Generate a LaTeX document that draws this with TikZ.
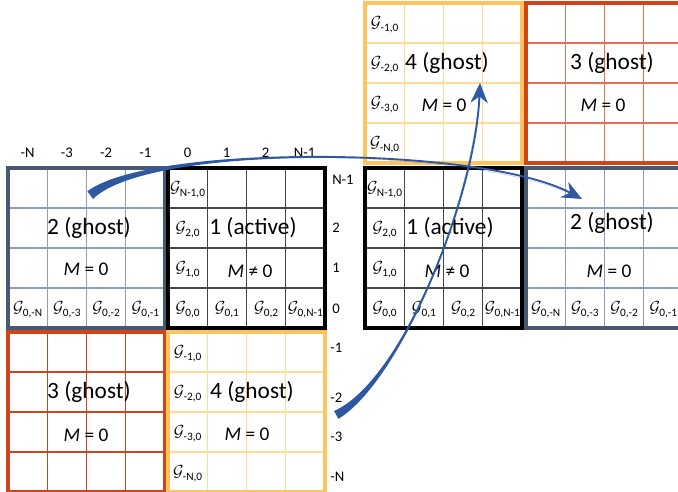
\documentclass[tikz,border=0pt]{standalone}
\usepackage{fontspec}
\setmainfont{Carlito}
\usetikzlibrary{arrows.meta}
\definecolor{slate}{RGB}{72,88,112}
\definecolor{slatel}{RGB}{140,158,184}
\definecolor{redb}{RGB}{208,68,26}
\definecolor{redl}{RGB}{226,112,82}
\definecolor{orab}{RGB}{255,196,92}
\definecolor{oral}{RGB}{255,220,145}
\definecolor{blkl}{RGB}{70,70,70}
\definecolor{arrowblue}{RGB}{47,88,163}
\tikzset{
  bigtext/.style={font=\fontsize{17.5}{19}\selectfont, inner sep=0pt},
  emtext/.style={font=\fontsize{14.5}{16}\selectfont, inner sep=0pt},
  axislab/.style={font=\fontsize{11}{12}\selectfont, inner sep=0pt},
  glab/.style={font=\fontsize{13}{14}\selectfont, inner sep=0pt},
  blockbox/.style={line width=2.3pt, minimum width=117.75pt, minimum height=120pt,
    inner sep=0pt, outer sep=0pt, anchor=north west},
  innerline/.style={line width=0.9pt},
  bluearrow/.style={draw=arrowblue, line width=1.4pt, -{Stealth[length=15pt,width=13pt]}},
}
\newcommand{\gsym}[1]{$\mathcal{G}$\kern-0.5pt\raisebox{-0.45ex}{\fontsize{8.5}{9}\selectfont #1}}
\newcommand{\gridlines}[3]{%
  \foreach \k in {1,2,3}{%
    \draw[innerline,#3] ({#1+\k*39.25},#2) -- ({#1+\k*39.25},{#2+160});
    \draw[innerline,#3] (#1,{#2+\k*40}) -- ({#1+157},{#2+\k*40});
  }}
\newcommand{\collabels}[4]{%
  \foreach \lab [count=\j from 0] in {#4}{%
    \node[glab] (#1c\j) at ({#2+19.6},{#3+22+\j*40}) {\gsym{\lab}};
  }}
\newcommand{\rowlabels}[4]{%
  \foreach \lab [count=\i from 0] in {#4}{%
    \node[glab] (#1r\i) at ({#2+19.6+\i*39.25},{#3+142}) {\gsym{\lab}};
  }}
\begin{document}
\begin{tikzpicture}[x=0.75pt,y=-0.75pt]
\useasboundingbox (0,0) rectangle (678,492);
\clip (0,0) rectangle (678,492);
\fill[white] (0,0) rectangle (678,492);
% inner grid lines
\gridlines{8}{168}{slatel}
\gridlines{168}{168}{blkl}
\gridlines{8}{332}{redb}
\gridlines{168}{332}{oral}
\gridlines{365}{168}{blkl}
\gridlines{526}{168}{slatel}
\gridlines{365}{3}{oral}
\gridlines{526}{3}{redl}
% block borders
\node[blockbox, draw=slate] (b2L) at (8,168) {};
\node[blockbox, draw=black] (b1L) at (168,168) {};
\node[blockbox, draw=redb] (b3L) at (8,332) {};
\node[blockbox, draw=orab] (b4L) at (168,332) {};
\node[blockbox, draw=black] (b1R) at (365,168) {};
\node[blockbox, draw=slate] (b2R) at (526,168) {};
\node[blockbox, draw=orab] (b4T) at (365,3) {};
\node[blockbox, draw=redb] (b3T) at (526,3) {};
% block texts
\node[bigtext] (t2L) at (89,228) {2 (ghost)};
\node[emtext] (m2L) at (86,269) {\textit{M} = 0};
\node[bigtext] (t1L) at (253,228) {1 (active)};
\node[emtext] (m1L) at (250,271) {\textit{M} ≠ 0};
\node[bigtext] (t3L) at (89,392) {3 (ghost)};
\node[emtext] (m3L) at (86,435) {\textit{M} = 0};
\node[bigtext] (t4L) at (252,392) {4 (ghost)};
\node[emtext] (m4L) at (247,434) {\textit{M} = 0};
\node[bigtext] (t1R) at (450,228) {1 (active)};
\node[emtext] (m1R) at (447,271) {\textit{M} ≠ 0};
\node[bigtext] (t2R) at (612,223) {2 (ghost)};
\node[emtext] (m2R) at (609,271) {\textit{M} = 0};
\node[bigtext] (t4T) at (447,63) {4 (ghost)};
\node[emtext] (m4T) at (444,105) {\textit{M} = 0};
\node[bigtext] (t3T) at (612,63) {3 (ghost)};
\node[emtext] (m3T) at (603,105) {\textit{M} = 0};
% cell labels
\collabels{g1L}{168}{168}{{N-1,0},{2,0},{1,0}}
\rowlabels{g1L}{168}{168}{{0,0},{0,1},{0,2},{0,N-1}}
\rowlabels{g2L}{8}{168}{{0,-N},{0,-3},{0,-2},{0,-1}}
\collabels{g4L}{168}{332}{{-1,0},{-2,0},{-3,0},{-N,0}}
\collabels{g1R}{365}{168}{{N-1,0},{2,0},{1,0}}
\rowlabels{g1R}{365}{168}{{0,0},{0,1},{0,2},{0,N-1}}
\rowlabels{g2R}{526}{168}{{0,-N},{0,-3},{0,-2},{0,-1}}
\collabels{g4T}{365}{3}{{-1,0},{-2,0},{-3,0},{-N,0}}
% axis labels
\foreach \lab [count=\i from 0] in {-N,-3,-2,-1}{%
  \node[axislab] (ax\i) at ({27.6+\i*39.25},153) {\lab};}
\foreach \lab [count=\i from 0] in {0,1,2,N-1}{%
  \node[axislab] (ay\i) at ({187.6+\i*39},153) {\lab};}
\node[axislab, anchor=west] (ryN) at (332,180) {N-1};
\node[axislab, anchor=west] (ry2) at (332,228) {2};
\node[axislab, anchor=west] (ry1) at (332,268) {1};
\node[axislab, anchor=west] (ry0) at (332,309) {0};
\node[axislab, anchor=west] (rm1) at (330,348) {-1};
\node[axislab, anchor=west] (rm2) at (330,398) {-2};
\node[axislab, anchor=west] (rm3) at (330,437) {-3};
\node[axislab, anchor=west] (rmN) at (330,477) {-N};
% arrows
\coordinate (a1s) at (88,192);
\coordinate (a1t) at (93,199);
\coordinate (a1e) at (582,199);
\fill[arrowblue] (a1s) .. controls (150,145) and (480,145) .. (a1e)
  .. controls (480,145) and (148.7,143.3) .. (a1t) -- cycle;
\draw[bluearrow] (a1s) .. controls (150,145) and (480,145) .. (a1e);
\coordinate (a2s) at (338,418);
\coordinate (a2t) at (334,411);
\coordinate (a2e) at (480,83);
\fill[arrowblue] (a2s) .. controls (400,380) and (475,200) .. (a2e)
  .. controls (475,200) and (401,381.7) .. (a2t) -- cycle;
\draw[bluearrow] (a2s) .. controls (400,380) and (475,200) .. (a2e);
\end{tikzpicture}
\end{document}
